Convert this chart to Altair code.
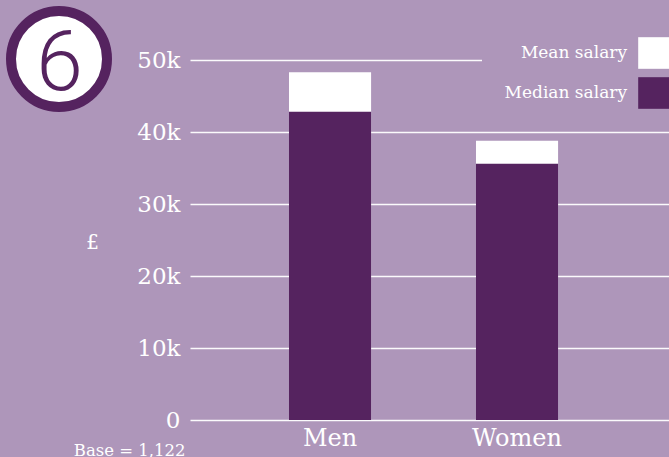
import altair as alt
import pandas as pd

groups = ["Men", "Women"]
mean_salary = [48300, 38800]
median_salary = [42800, 35600]
series = ["Mean salary", "Median salary"]
y_ticks = [0, 10000, 20000, 30000, 40000, 50000]
badge_text = ["6"]
base_note = "Base = 1,122"
y_title = "£"

BG = "#AE96BA"
DARK = "#55235F"
FONT = "DejaVu Serif"

rows = []
for g, v in zip(groups, mean_salary):
    rows.append({"group": g, "measure": series[0], "value": v})
for g, v in zip(groups, median_salary):
    rows.append({"group": g, "measure": series[1], "value": v})
df = pd.DataFrame(rows)

bars = alt.Chart(df).mark_bar().encode(
    x=alt.X(
        "group:N",
        sort=groups,
        scale=alt.Scale(domain=groups, paddingInner=0.561, paddingOuter=0.5613, align=0.4716),
        axis=alt.Axis(
            title=base_note, labelAngle=0, labelFont=FONT, labelFontSize=24,
            labelColor="white", labelPadding=6, domain=False, ticks=False,
            titleX=-5, titleY=35, titleAlign="right", titleBaseline="alphabetic",
            titleFont=FONT, titleFontSize=16.5, titleFontWeight="normal", titleColor="white",
        ),
    ),
    y=alt.Y(
        "value:Q",
        stack=None,
        scale=alt.Scale(domain=[0, 50000], nice=False),
        axis=alt.Axis(
            values=y_ticks,
            labelExpr="datum.value == 0 ? '0' : (datum.value / 1000) + 'k'",
            title=y_title, titleAngle=0, titleX=-98, titleY=182, titleAlign="center",
            titleBaseline="middle", titleFont=FONT, titleFontSize=20,
            titleFontWeight="normal", titleColor="white",
            grid=True, gridColor="white", gridWidth=1.5, gridOpacity=0.95,
            domain=False, ticks=False, labelPadding=10,
            labelFont=FONT, labelFontSize=23, labelColor="white",
        ),
    ),
    color=alt.Color(
        "measure:N",
        scale=alt.Scale(domain=series, range=["white", DARK]),
        legend=alt.Legend(
            title=None, orient="none", legendX=292, legendY=-33,
            symbolType="square", symbolSize=1000, symbolStrokeWidth=0,
            symbolOffset=146, labelAlign="right", labelOffset={"expr": "-43"},
            labelFont=FONT, labelFontSize=17,
            labelColor="white", rowPadding=8, fillColor=BG, padding=10,
        ),
    ),
)

badge_df = pd.DataFrame({"t": badge_text})
circle = alt.Chart(badge_df).mark_point(
    shape="circle", filled=True, fill="white", stroke=DARK, strokeWidth=10,
    size=9216, opacity=1,
).encode(x=alt.value(-131), y=alt.value(-1))

digit = alt.Chart(badge_df).mark_text(
    font="Roboto", fontWeight=300, fontSize=84, color=DARK, align="center", baseline="middle",
).encode(text="t:N", x=alt.value(-130.5), y=alt.value(5))

chart = alt.layer(bars, circle, digit).properties(
    width=479, height=360,
    padding={"left": 190, "top": 60, "right": 0, "bottom": 37},
    autosize=alt.AutoSizeParams(type="none"),
    background=BG,
).configure_view(stroke=None)

chart.save("out.html", embed_options={"renderer": "svg", "actions": False})
